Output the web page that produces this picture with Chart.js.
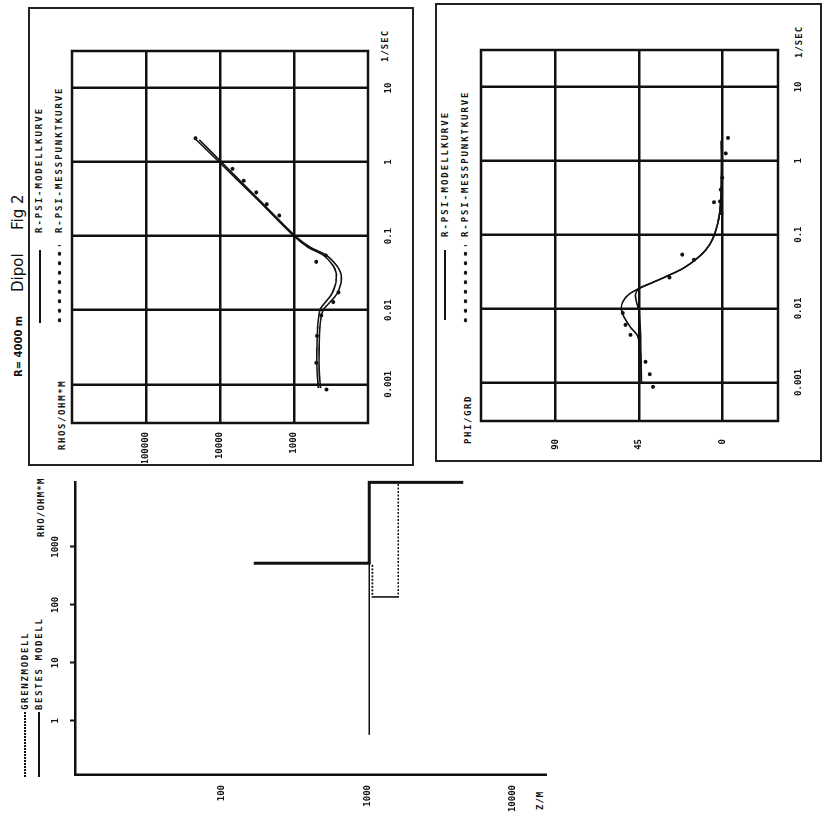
<!DOCTYPE html>
<html>
<head>
<meta charset="utf-8">
<script src="https://cdn.jsdelivr.net/npm/chart.js@4.4.0/dist/chart.umd.min.js"></script>
<style>
body { margin: 0; background: #fff; overflow: hidden; }
#page { position: absolute; left: 0; top: 0; width: 822px; height: 827px; transform-origin: 0 0; transform: translateY(822px) rotate(-90deg); font-family: "DejaVu Sans Mono", monospace; color: #111; }
.box { position: absolute; border: 2px solid #222; box-sizing: border-box; }
.wrap { position: absolute; }
.lbl { position: absolute; font-weight: bold; font-size: 9px; letter-spacing: 2px; white-space: nowrap; line-height: 10px; }
.sw { position: absolute; height: 2px; background: #111; }
.dots { position: absolute; height: 5px; background: radial-gradient(circle, #111 1.6px, transparent 2.1px) repeat-x; background-size: 9.5px 5px; }
.dash { position: absolute; height: 2px; background: repeating-linear-gradient(90deg, #111 0 2px, transparent 2px 3px); }
.title { position: absolute; white-space: nowrap; background: #fff; font-family: "DejaVu Sans", sans-serif; }
</style>
</head>
<body>
<div id="page">
  <div class="box" style="left:356px; top:28px; width:459px; height:386px;"></div>
  <div class="box" style="left:360px; top:435px; width:459px; height:387px;"></div>

  <div class="title" style="left:445px; top:11px; font-size:10px; font-weight:bold; line-height:16px;">R= 4000 m</div>
  <div class="title" style="left:530px; top:9px; font-size:15px; line-height:18px;">Dipol</div>
  <div class="title" style="left:592px; top:9px; font-size:15px; line-height:18px;">Fig 2</div>

  <div class="sw" style="left:499px; top:39px; width:73px;"></div>
  <div class="lbl" style="left:589px; top:34px;">R-PSI-MODELLKURVE</div>
  <div class="dots" style="left:497px; top:57px; width:80px;"></div>
  <div class="lbl" style="left:589px; top:54px; letter-spacing:1.9px;">R-PSI-MESSPUNKTKURVE</div>
  <div class="lbl" style="left:372px; top:57px; letter-spacing:1.6px;">RHOS/OHM*M</div>
  <div class="lbl" style="left:760px; top:380px; letter-spacing:1px;">1/SEC</div>
  <div class="wrap" style="left:359px; top:70px; width:416px; height:328px;"><canvas id="chartRhos"></canvas></div>

  <div class="sw" style="left:502px; top:444px; width:70px;"></div>
  <div class="lbl" style="left:585px; top:440px;">R-PSI-MODELLKURVE</div>
  <div class="dots" style="left:497px; top:463px; width:80px;"></div>
  <div class="lbl" style="left:585px; top:460px; letter-spacing:1.9px;">R-PSI-MESSPUNKTKURVE</div>
  <div class="lbl" style="left:378px; top:463px; letter-spacing:1.6px;">PHI/GRD</div>
  <div class="lbl" style="left:764px; top:794px; letter-spacing:1px;">1/SEC</div>
  <div class="wrap" style="left:361px; top:479px; width:415px; height:329px;"><canvas id="chartPhi"></canvas></div>

  <div class="dash" style="left:45px; top:24px; width:65px;"></div>
  <div class="lbl" style="left:112px; top:20px; letter-spacing:1.7px;">GRENZMODELL</div>
  <div class="sw" style="left:45px; top:38px; width:65px;"></div>
  <div class="lbl" style="left:112px; top:34px; letter-spacing:1.7px;">BESTES MODELL</div>
  <div class="lbl" style="left:285px; top:36px; letter-spacing:1.2px;">RHO/OHM*M</div>
  <div class="lbl" style="left:12px; top:535px; letter-spacing:1px;">Z/M</div>
  <div class="wrap" style="left:7px; top:40px; width:343px; height:510px;"><canvas id="chartModell"></canvas></div>
</div>

<script>
// Scheinbarer Widerstand (Modellkurven + Messpunkte)
const rhosFreq = [2.0, 1.0, 0.316, 0.1, 0.0708, 0.055, 0.0398, 0.0316, 0.0269, 0.0224, 0.0166, 0.012, 0.01, 0.0059, 0.00316, 0.00158, 0.00089];
const rhosModell1 = [19050, 9550, 3020, 955, 603, 363, 263, 234, 229, 234, 263, 347, 407, 447, 457, 457, 437];
const rhosModell2 = [20900, 10230, 3160, 1000, 646, 398, 295, 269, 269, 275, 309, 398, 447, 479, 490, 490, 468];
const rhosMessFreq = [2.1, 0.81, 0.56, 0.39, 0.27, 0.19, 0.055, 0.045, 0.0174, 0.0129, 0.0085, 0.0045, 0.00195, 0.00085];
const rhosMess = [21500, 6760, 4790, 3240, 2340, 1580, 372, 500, 251, 295, 427, 490, 500, 363];

// Phase
const phiFreq = [1.86, 0.468, 0.204, 0.123, 0.0851, 0.0617, 0.0479, 0.0355, 0.0275, 0.0219, 0.0186, 0.0155, 0.0123, 0.0098, 0.0078, 0.0056, 0.0042, 0.0026, 0.00102];
const phiModell1 = [0.5, 0.5, 1.3, 3.1, 5.4, 9, 13.5, 20.7, 29.7, 38.7, 45, 50.4, 53.6, 54.4, 53.1, 49.5, 45.5, 44.1, 43.7];
const phiModell2 = [0.5, 0.5, 1.3, 3.1, 5.4, 9, 13.5, 20.7, 29.7, 38.7, 45, 46.8, 46.2, 45.2, 44.6, 44.2, 44.0, 43.9, 43.6];
const phiMessFreq = [2.04, 1.26, 0.589, 0.407, 0.282, 0.275, 0.195, 0.0537, 0.0457, 0.0263, 0.0087, 0.006, 0.0044, 0.0019, 0.00129, 0.00087];
const phiMess = [-3.1, -1.8, 0, 0.9, 1.3, 4.5, 0.5, 21.6, 15.3, 28.4, 53.6, 52.2, 49.5, 41.4, 39.1, 37.3];

// Schichtmodelle
const bestesRho = [523, 523, 13000, 13000];
const bestesTiefe = [166, 1030, 1030, 4560];
const grenzRho = [0.57, 523, null, 490, 137, 137, 13000];
const grenzTiefe = [1030, 1030, null, 1083, 1083, 1630, 1630];

// Achsen
const freqTicks = [0.001, 0.01, 0.1, 1, 10];
const rhosTicks = [1000, 10000, 100000];
const phiTicks = [0, 45, 90];
const rhoTicks = [1, 10, 100, 1000];
const tiefeTicks = [100, 1000, 10000];

const ink = '#111';
const tickFont = { family: 'DejaVu Sans Mono', size: 9, weight: 'bold' };
const pts = (xs, ys) => xs.map((x, i) => ({ x: x, y: ys[i] }));

const framePlugin = {
    id: 'frame',
    afterDraw(chart) {
        const a = chart.chartArea;
        const ctx = chart.ctx;
        ctx.save();
        ctx.strokeStyle = ink;
        ctx.lineWidth = 2.5;
        ctx.strokeRect(a.left, a.top, a.right - a.left, a.bottom - a.top);
        ctx.restore();
    }
};

function fixTicks(values) {
    return function (axis) {
        axis.ticks = values.map(v => ({ value: v }));
    };
}

// feste Achsenbreite, ohne Zusatzabstand fuer Randbeschriftungen
function fitX(h) {
    return function (s) { s.height = h; s.paddingLeft = 0; s.paddingRight = 0; };
}
function fitY(w) {
    return function (s) { s.width = w; s.paddingTop = 0; s.paddingBottom = 0; };
}

function lineSet(data) {
    return { data: data, showLine: true, borderColor: ink, borderWidth: 1.6, pointRadius: 0, tension: 0.35 };
}

function dotSet(data) {
    return { data: data, showLine: false, pointRadius: 2, pointBackgroundColor: ink, pointBorderWidth: 0 };
}

const freqAxis = {
    type: 'logarithmic',
    min: Math.pow(10, -3.5),
    max: Math.pow(10, 1.5),
    afterBuildTicks: fixTicks(freqTicks),
    afterFit: fitX(30),
    grid: { color: ink, lineWidth: 2.5, drawTicks: false },
    border: { display: false },
    ticks: { autoSkip: false, maxRotation: 0, padding: 15, color: ink, font: tickFont, callback: v => String(v) }
};

const baseOptions = {
    responsive: true,
    maintainAspectRatio: false,
    animation: false,
    events: [],
    plugins: { legend: { display: false }, tooltip: { enabled: false } }
};

// Scheinbarer Widerstand
new Chart(document.getElementById('chartRhos').getContext('2d'), {
    type: 'scatter',
    data: {
        datasets: [
            lineSet(pts(rhosFreq, rhosModell1)),
            lineSet(pts(rhosFreq, rhosModell2)),
            dotSet(pts(rhosMessFreq, rhosMess))
        ]
    },
    options: Object.assign({}, baseOptions, {
        layout: { autoPadding: false, padding: { top: 2, right: 4, left: 0, bottom: 0 } },
        scales: {
            x: freqAxis,
            y: {
                type: 'logarithmic',
                min: 100,
                max: 1000000,
                afterBuildTicks: fixTicks(rhosTicks),
                afterFit: fitY(40),
                grid: { color: ink, lineWidth: 2.5, drawTicks: false },
                border: { display: false },
                ticks: { autoSkip: false, padding: 9, color: ink, font: tickFont, callback: v => String(v) }
            }
        }
    }),
    plugins: [framePlugin]
});

// Phase
new Chart(document.getElementById('chartPhi').getContext('2d'), {
    type: 'scatter',
    data: {
        datasets: [
            lineSet(pts(phiFreq, phiModell1)),
            lineSet(pts(phiFreq, phiModell2)),
            dotSet(pts(phiMessFreq, phiMess))
        ]
    },
    options: Object.assign({}, baseOptions, {
        layout: { autoPadding: false, padding: { top: 2, right: 4, left: 0, bottom: 0 } },
        scales: {
            x: freqAxis,
            y: {
                type: 'linear',
                min: -30,
                max: 130,
                afterBuildTicks: fixTicks(phiTicks),
                afterFit: fitY(40),
                grid: { color: ink, lineWidth: 2.5, drawTicks: false },
                border: { display: false },
                ticks: { autoSkip: false, padding: 18, color: ink, font: tickFont }
            }
        }
    }),
    plugins: [framePlugin]
});

// Schichtmodell
new Chart(document.getElementById('chartModell').getContext('2d'), {
    type: 'scatter',
    data: {
        datasets: [
            { data: pts(bestesRho, bestesTiefe), showLine: true, borderColor: ink, borderWidth: 3, pointRadius: 0, clip: false },
            {
                data: pts(grenzRho, grenzTiefe), showLine: true, spanGaps: false, borderColor: ink, borderWidth: 1.6, pointRadius: 0, clip: false,
                segment: { borderDash: ctx => ctx.p0DataIndex === 0 ? [] : [2, 1.5] }
            }
        ]
    },
    options: Object.assign({}, baseOptions, {
        layout: { autoPadding: false, padding: { top: 0, right: 10, left: 0, bottom: 4 } },
        scales: {
            x: {
                type: 'logarithmic',
                position: 'top',
                min: Math.pow(10, -0.936),
                max: Math.pow(10, 4.12),
                afterBuildTicks: fixTicks(rhoTicks),
                afterFit: fitX(35),
                grid: { drawOnChartArea: false, drawTicks: true, tickLength: 5, tickWidth: 2, tickColor: ink },
                border: { display: true, color: ink, width: 2.5 },
                ticks: { autoSkip: false, maxRotation: 0, padding: 9, color: ink, font: tickFont, callback: v => String(v) }
            },
            y: {
                type: 'logarithmic',
                reverse: true,
                min: 9.8,
                max: 16900,
                afterBuildTicks: fixTicks(tiefeTicks),
                afterFit: fitY(40),
                grid: { drawOnChartArea: false, drawTicks: false },
                border: { display: true, color: ink, width: 2.5 },
                ticks: { autoSkip: false, padding: 10, color: ink, font: tickFont, callback: v => String(v) }
            }
        }
    })
});
</script>
</body>
</html>
